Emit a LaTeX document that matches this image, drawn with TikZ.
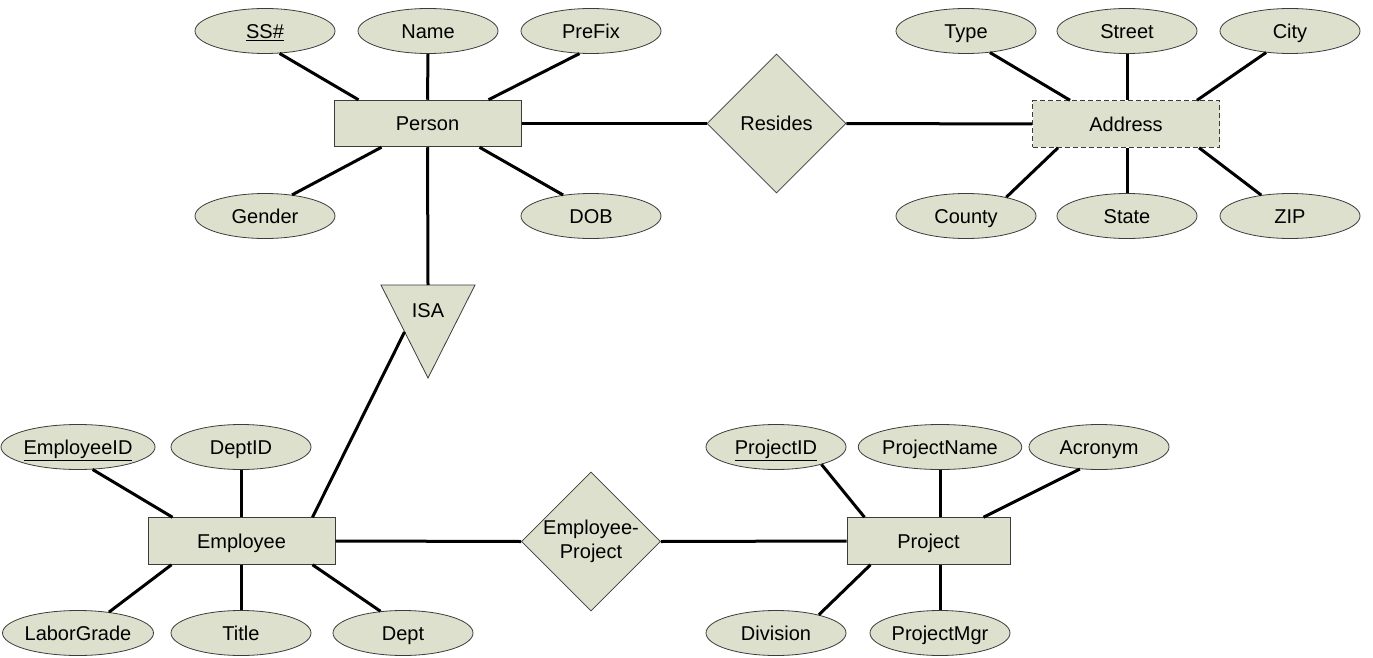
\documentclass[tikz,border=0pt]{standalone}
\usepackage{fontspec}
\setmainfont{Liberation Sans}
\usetikzlibrary{shapes.geometric,calc}
\definecolor{erfill}{RGB}{221,224,204}
\definecolor{erline}{RGB}{60,60,60}
\begin{document}
\begin{tikzpicture}[x=1pt,y=-1pt,
  font=\fontsize{20}{24}\selectfont,
  txt/.style={text height=14.3pt, text depth=0pt},
  attr/.style={ellipse, txt, draw=erline, line width=0.8pt, fill=erfill, minimum width=140pt, minimum height=45pt, inner sep=0pt},
  entity/.style={rectangle, txt, draw=erline, line width=1pt, fill=erfill, minimum width=187pt, minimum height=46.5pt, inner sep=0pt},
  rel/.style={diamond, aspect=1, draw=erline, line width=0.8pt, fill=erfill, minimum width=139pt, minimum height=139pt, inner sep=-2pt},
  conn/.style={line width=3pt, black}]
\useasboundingbox[fill=white] (0,0) rectangle (1373,658);

% Person group
\node[entity] (person) at (427.5,123.5) {Person};
\node[attr] (ss) at (265,31) {\underline{SS\#}};
\node[attr] (name) at (428,31) {Name};
\node[attr] (prefix) at (591,31) {PreFix};
\node[attr] (gender) at (265,216) {Gender};
\node[attr] (dob) at (591,216) {DOB};

% Resides / Address
\node[rel, txt] (resides) at (776.5,123.5) {Resides};
\node[entity, dashed, dash pattern=on 5pt off 3pt] (address) at (1126,124) {Address};
\node[attr] (type) at (966,31) {Type};
\node[attr] (street) at (1127,31) {Street};
\node[attr] (city) at (1290,31) {City};
\node[attr] (county) at (966,216) {County};
\node[attr] (state) at (1127,216) {State};
\node[attr] (zip) at (1290,216) {ZIP};

% ISA triangle
\draw[fill=erfill, draw=erline, line width=0.8pt] (381,285) -- (475,285) -- (428,378) -- cycle;
\node[txt] (isa) at (428,310) {ISA};
\coordinate (isatop) at (428,285);
\coordinate (isaleft) at (404.5,332);

% Employee group
\node[entity] (employee) at (241.5,541) {Employee};
\node[attr] (empid) at (78,447) {\underline{EmployeeID}};
\node[attr] (deptid) at (241,447) {DeptID};
\node[attr] (labor) at (78,633) {LaborGrade};
\node[attr] (title) at (241,633) {Title};
\node[attr] (dept) at (403,633) {Dept};

% Employee-Project / Project
\node[rel, align=center] (ep) at (591,541.5) {Employee-\\Project};
\node[entity, minimum width=163pt] (project) at (928.5,541) {Project};
\node[attr] (pid) at (776,447) {\underline{ProjectID}};
\node[attr] (pname) at (940,447) {ProjectName};
\node[attr] (acr) at (1099,447) {Acronym};
\node[attr] (div) at (776,633) {Division};
\node[attr] (pmgr) at (940,633) {ProjectMgr};

% Connectors: Person
\draw[conn] (ss.-57) -- ($(person.north west)+(25,0)$);
\draw[conn] (name.south) -- (person.north);
\draw[conn] (prefix.-117) -- ($(person.north east)+(-33,0)$);
\draw[conn] (gender.38) -- ($(person.south west)+(48,0)$);
\draw[conn] (dob.143) -- ($(person.south east)+(-42,0)$);
\draw[conn] (person.south) -- (isatop);
\draw[conn] (person.east) -- (resides.west);
\draw[conn] (resides.east) -- (address.west);

% Connectors: Address
\draw[conn] (type.-42) -- ($(address.north west)+(38,0)$);
\draw[conn] (street.south) -- (address.north -| street.south);
\draw[conn] (city.-138) -- ($(address.north east)+(-23,0)$);
\draw[conn] (county.25) -- ($(address.south west)+(26,0)$);
\draw[conn] (state.north) -- (address.south -| state.north);
\draw[conn] (zip.144) -- ($(address.south east)+(-21,0)$);

% Connectors: Employee
\draw[conn] (empid.-57) -- ($(employee.north west)+(25,0)$);
\draw[conn] (deptid.south) -- (employee.north -| deptid.south);
\draw[conn] (labor.34) -- ($(employee.south west)+(24,0)$);
\draw[conn] (title.north) -- (employee.south -| title.north);
\draw[conn] (dept.136) -- ($(employee.south east)+(-23,0)$);
\draw[conn] ($(employee.north east)+(-23,0)$) -- (isaleft);
\draw[conn] (employee.east) -- (ep.west);
\draw[conn] (ep.east) -- (project.west);

% Connectors: Project
\draw[conn] (pid.-21) -- ($(project.north west)+(18,0)$);
\draw[conn] (pname.south) -- (project.north -| pname.south);
\draw[conn] (acr.-131) -- ($(project.north east)+(-27,0)$);
\draw[conn] (div.23) -- ($(project.south west)+(24,0)$);
\draw[conn] (pmgr.north) -- (project.south -| pmgr.north);
\end{tikzpicture}
\end{document}
